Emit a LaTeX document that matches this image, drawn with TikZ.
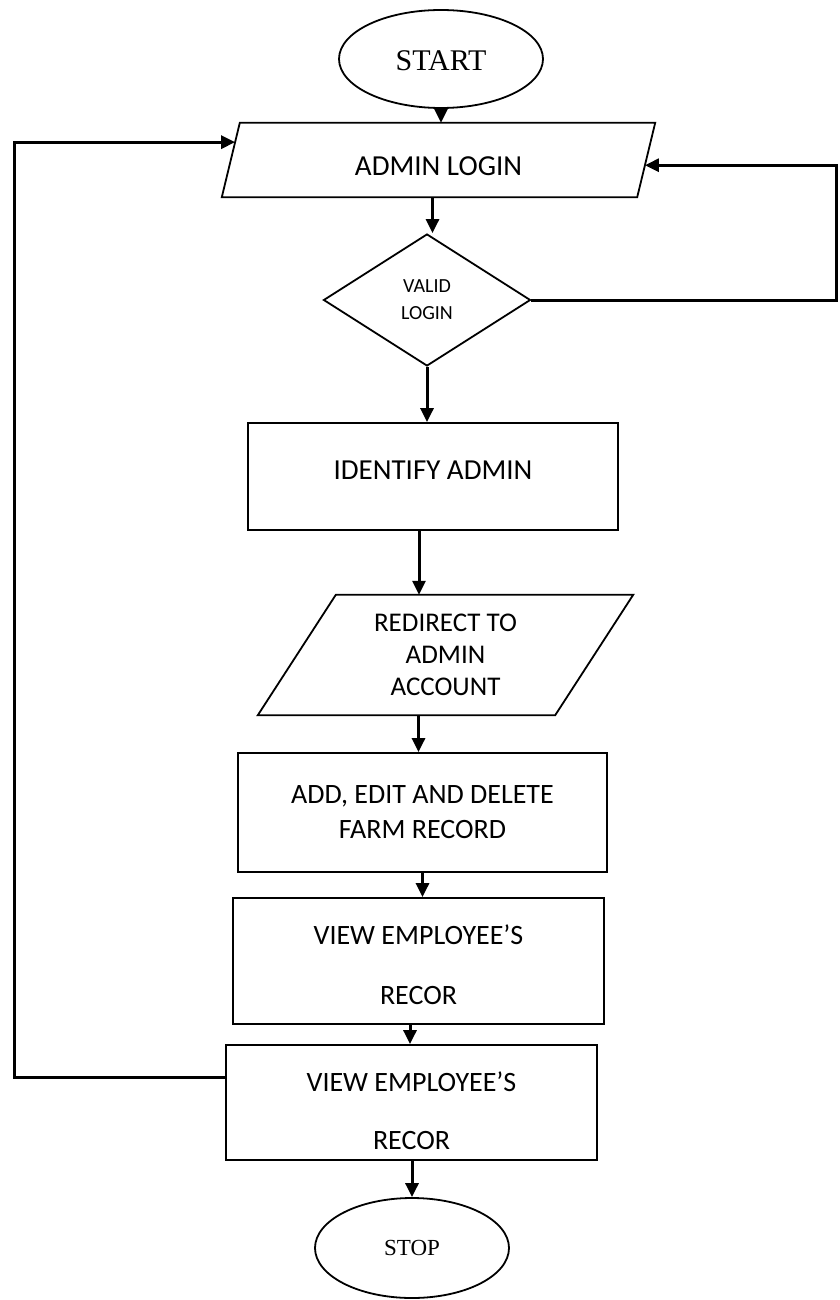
\documentclass[tikz,border=0pt]{standalone}
\usepackage{fontspec}
\setmainfont{Carlito}
\newfontfamily\timesf{Liberation Serif}
\usetikzlibrary{shapes.geometric,arrows.meta,calc}
\begin{document}
\begin{tikzpicture}[x=1pt,y=-1pt,
  outline/.style={draw, line width=1.8pt},
  box/.style={outline, inner sep=0pt, align=center},
  txt/.style={inner sep=0pt, align=center},
  term/.style={ellipse, outline, inner sep=0pt},
  decide/.style={diamond, outline, inner sep=0pt, align=center},
  arr/.style={line width=3pt, -{Triangle[length=14pt,width=13pt]}},
  f29/.style={font=\fontsize{29}{35}\selectfont},
]
\useasboundingbox (0,0) rectangle (839,1300);

% nodes
\node[term, minimum width=204pt, minimum height=98pt, font=\timesf\fontsize{30}{36}\selectfont] (start) at (441,59) {\raisebox{-2pt}[\height][\depth]{START}};
\node[txt, f29, minimum width=415pt, minimum height=74pt] (login) at (438.5,160) {\raisebox{-6pt}[\height][\depth]{ADMIN LOGIN}};
\node[decide, minimum width=207pt, minimum height=132pt, font=\fontsize{20}{27}\selectfont] (valid) at (427,300) {VALID\\LOGIN};
\node[box, f29, minimum width=370pt, minimum height=107pt] (ident) at (433,476.5) {\raisebox{6pt}[\height][\depth]{IDENTIFY ADMIN}};
\node[txt, minimum width=297pt, minimum height=120pt, font=\fontsize{27}{32}\selectfont] (redir) at (445.5,655) {REDIRECT TO\\ADMIN\\ACCOUNT};
\node[box, minimum width=369pt, minimum height=119pt, font=\fontsize{28}{35}\selectfont] (add) at (422.5,812.5) {ADD, EDIT AND DELETE\\FARM RECORD};
\node[box, minimum width=371pt, minimum height=126pt,
  label={[align=center, font=\fontsize{28}{60}\selectfont, yshift=-4pt]center:VIEW EMPLOYEE’S\\RECOR}] (view1) at (418.5,961) {};
\node[box, minimum width=371pt, minimum height=115pt,
  label={[align=center, font=\fontsize{28}{58}\selectfont, yshift=-8pt]center:VIEW EMPLOYEE’S\\RECOR}] (view2) at (411.5,1102.5) {};
\node[term, minimum width=194pt, minimum height=100pt, font=\timesf\fontsize{23}{28}\selectfont] (stop) at (412,1248) {STOP};

% parallelogram outlines
\coordinate (lgTL) at ($(login.north west)+(9,0)$);
\coordinate (lgTR) at ($(login.north east)+(9,0)$);
\coordinate (lgBR) at ($(login.south east)+(-9,0)$);
\coordinate (lgBL) at ($(login.south west)+(-9,0)$);
\draw[outline] (lgTL) -- (lgTR) -- (lgBR) -- (lgBL) -- cycle;
\coordinate (rdTL) at ($(redir.north west)+(39,0)$);
\coordinate (rdTR) at ($(redir.north east)+(39,0)$);
\coordinate (rdBR) at ($(redir.south east)+(-39,0)$);
\coordinate (rdBL) at ($(redir.south west)+(-39,0)$);
\draw[outline] (rdTL) -- (rdTR) -- (rdBR) -- (rdBL) -- cycle;

% main flow
\draw[arr] (start.south) -- (start.south |- login.north);
\draw[arr] ([xshift=-6pt]login.south) -- ([xshift=-6pt]login.south |- valid.north);
\draw[arr] (valid.south) -- (valid.south |- ident.north);
\draw[arr] ([xshift=-14pt]ident.south) -- ([xshift=-14pt]ident.south |- redir.north);
\draw[arr] ([xshift=-27pt]redir.south) -- ([xshift=-27pt]redir.south |- add.north);
\draw[arr] (add.south) -- (add.south |- view1.north);
\draw[arr] ([xshift=-8.5pt]view1.south) -- ([xshift=-8.5pt]view1.south |- view2.north);
\draw[arr] (stop.north |- view2.south) -- (stop.north);

% loops
\coordinate (rin) at ($(lgTR)!0.57!(lgBR)$);
\coordinate (lin) at ($(lgTL)!0.26!(lgBL)$);
\coordinate (rx) at (836,0);
\coordinate (lx) at (14,0);
\coordinate (vout) at ($(view2.north west)!0.29!(view2.south west)$);
\draw[arr] (valid.east) -- (valid.east -| rx) -- (rx |- rin) -- (rin);
\draw[arr] (vout) -- (vout -| lx) -- (lx |- lin) -- (lin);
\end{tikzpicture}
\end{document}
